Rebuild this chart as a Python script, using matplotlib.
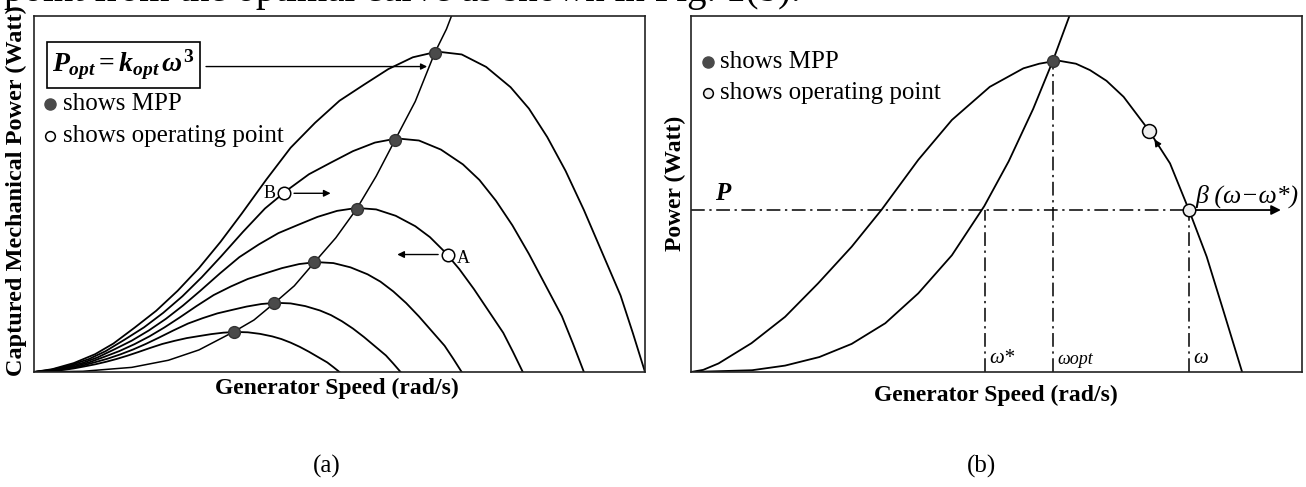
import numpy as np
import matplotlib
matplotlib.use("Agg")
import matplotlib.pyplot as plt

plt.rcParams['font.family'] = ['Liberation Serif', 'DejaVu Serif']
plt.rcParams['mathtext.fontset'] = 'custom'
plt.rcParams['mathtext.rm'] = 'Liberation Serif:bold'
plt.rcParams['mathtext.it'] = 'Liberation Serif:italic:bold'
plt.rcParams['mathtext.bf'] = 'Liberation Serif:bold'

# ---- panel (a) data (box fractions) ----
# largest power curve
base_u = [0.00, 0.03, 0.065, 0.10, 0.13, 0.165, 0.20, 0.235, 0.27, 0.305, 0.34,
          0.38, 0.42, 0.46, 0.50, 0.54, 0.58, 0.62, 0.66, 0.70, 0.74, 0.78,
          0.81, 0.84, 0.87, 0.90, 0.93, 0.96, 0.98, 1.00]
base_v = [0.00, 0.008, 0.025, 0.05, 0.08, 0.125, 0.172, 0.228, 0.292, 0.365, 0.445,
          0.54, 0.63, 0.70, 0.762, 0.807, 0.851, 0.884, 0.90, 0.892, 0.857, 0.80,
          0.74, 0.66, 0.565, 0.455, 0.335, 0.215, 0.11, 0.00]
wind_scale = [0.5, 0.6, 0.7, 0.8, 0.9, 1.0]

# optimal curve P_opt = k_opt w^3, read points
opt_x = [0.0, 0.08, 0.16, 0.22, 0.27, 0.327, 0.36, 0.393, 0.426, 0.459, 0.494,
         0.528, 0.56, 0.591, 0.624, 0.656, 0.675, 0.69]
opt_y = [0.0, 0.002, 0.013, 0.033, 0.062, 0.113, 0.146, 0.193, 0.242, 0.308, 0.377,
         0.458, 0.55, 0.652, 0.76, 0.897, 0.963, 1.03]
mpp_x = [0.327, 0.393, 0.459, 0.528, 0.591, 0.656]
mpp_y = [0.113, 0.193, 0.308, 0.458, 0.652, 0.897]
op_a = (0.678, 0.330)
op_b = (0.409, 0.502)

# ---- panel (b) data ----
pb_x = [0.0, 0.02, 0.045, 0.099, 0.154, 0.208, 0.263, 0.312, 0.372, 0.427, 0.489,
        0.544, 0.57, 0.60, 0.63, 0.653, 0.68, 0.708, 0.748, 0.784, 0.815, 0.844,
        0.871, 0.902]
pb_y = [0.0, 0.006, 0.024, 0.081, 0.155, 0.249, 0.352, 0.456, 0.596, 0.708, 0.801,
        0.853, 0.866, 0.875, 0.866, 0.848, 0.818, 0.773, 0.682, 0.586, 0.455, 0.324,
        0.174, 0.0]
cb_x = [0.0, 0.1, 0.154, 0.21, 0.263, 0.318, 0.372, 0.427, 0.48, 0.52, 0.56, 0.592, 0.62]
cb_y = [0.0, 0.005, 0.018, 0.042, 0.079, 0.137, 0.221, 0.328, 0.466, 0.592, 0.739, 0.873, 1.003]
p_level = 0.455
w_star = 0.481
w_opt = 0.592
w_op = 0.815
mpp_b = (0.592, 0.873)
op_b2 = (0.750, 0.678)

W, H = 1306, 487
fig = plt.figure(figsize=(W / 100, H / 100), dpi=100)

def box(x0, y0, x1, y1):
    return [x0 / W, 1 - y1 / H, (x1 - x0) / W, (y1 - y0) / H]

ax1 = fig.add_axes(box(34, 16, 645, 372))
ax2 = fig.add_axes(box(691, 16, 1302, 372))
for ax in (ax1, ax2):
    ax.set_xlim(0, 1)
    ax.set_ylim(0, 1)
    ax.set_xticks([])
    ax.set_yticks([])
    for s in ax.spines.values():
        s.set_linewidth(1.2)
        s.set_color('#222222')

lw = 1.3
# ---- panel (a) ----
u = np.array(base_u)
v = np.array(base_v)
for s in wind_scale:
    ax1.plot(s * u, s ** 3 * v, color='black', lw=lw)
ax1.plot(opt_x, opt_y, color='black', lw=1.1)
ax1.plot(mpp_x, mpp_y, 'o', ms=8.5, color='#4a4a4a', mec='#333333')
for pt in (op_a, op_b):
    ax1.plot(*pt, 'o', ms=9, mfc='white', mec='black', mew=1.1, zorder=5)

ax1.annotate('', xy=(0.49, op_b[1]), xytext=(op_b[0] + 0.012, op_b[1]),
             arrowprops=dict(arrowstyle='-|>', lw=1, color='black', mutation_scale=10))
ax1.annotate('', xy=(0.59, op_a[1]), xytext=(op_a[0] - 0.012, op_a[1]),
             arrowprops=dict(arrowstyle='-|>', lw=1, color='black', mutation_scale=10))
ax1.text(op_b[0] - 0.014, op_b[1], 'B', ha='right', va='center', fontsize=13)
ax1.text(op_a[0] + 0.014, op_a[1] - 0.01, 'A', ha='left', va='center', fontsize=13)

ax1.text(0.146, 0.862, r'$P_{opt} = k_{opt}\,\omega^3$', ha='center', va='center',
         fontsize=20,
         bbox=dict(boxstyle='square,pad=0.2', fc='white', ec='black', lw=1.2))
ax1.annotate('', xy=(0.648, 0.858), xytext=(0.277, 0.858),
             arrowprops=dict(arrowstyle='-|>', lw=1, color='black', mutation_scale=9))
ax1.plot(0.027, 0.752, 'o', ms=8, color='#4a4a4a')
ax1.text(0.047, 0.752, 'shows MPP', ha='left', va='center', fontsize=18)
ax1.plot(0.027, 0.663, 'o', ms=7, mfc='white', mec='black', mew=1.1)
ax1.text(0.047, 0.663, 'shows operating point', ha='left', va='center', fontsize=18)

ax1.text(-0.029, 0.51, 'Captured Mechanical Power (Watt)', rotation=90,
         ha='center', va='center', fontsize=17.5, fontweight='bold')
ax1.text(0.496, -0.045, 'Generator Speed (rad/s)', ha='center', va='center',
         fontsize=17, fontweight='bold')

# ---- panel (b) ----
ax2.plot(pb_x, pb_y, color='black', lw=lw)
ax2.plot(cb_x, cb_y, color='black', lw=lw)
dd = (0, (9, 3, 1.5, 3))
ax2.plot([0, w_op], [p_level, p_level], color='black', lw=1.1, ls=dd)
ax2.annotate('', xy=(0.97, p_level), xytext=(w_op, p_level),
             arrowprops=dict(arrowstyle='-|>', lw=1.3, color='black', mutation_scale=14))
ax2.plot([w_star, w_star], [0, p_level], color='black', lw=1.1, ls=dd)
ax2.plot([w_opt, w_opt], [0, mpp_b[1]], color='black', lw=1.1, ls=dd)
ax2.plot([w_op, w_op], [0, p_level], color='black', lw=1.1, ls=dd)

ax2.plot(*mpp_b, 'o', ms=8.5, color='#4a4a4a', mec='#333333', zorder=5)
ax2.plot(w_op, p_level, 'o', ms=9, mfc='#eeeeee', mec='black', mew=1.1, zorder=5)
ax2.plot(*op_b2, 'o', ms=10, mfc='#eeeeee', mec='black', mew=1.1, zorder=5)
ax2.annotate('', xy=(op_b2[0] + 0.006, op_b2[1] - 0.018), xytext=(0.768, 0.628),
             arrowprops=dict(arrowstyle='-|>', lw=1, color='black', mutation_scale=10),
             zorder=6)

ax2.plot(0.028, 0.872, 'o', ms=8, color='#4a4a4a')
ax2.text(0.048, 0.872, 'shows MPP', ha='left', va='center', fontsize=18)
ax2.plot(0.028, 0.783, 'o', ms=7, mfc='#eeeeee', mec='black', mew=1.1)
ax2.text(0.048, 0.783, 'shows operating point', ha='left', va='center', fontsize=18)

ax2.text(0.039, 0.47, 'P', ha='left', va='bottom', fontsize=18,
         fontweight='bold', fontstyle='italic')
ax2.text(0.826, 0.462, 'β (ω−ω*)', ha='left', va='bottom', fontsize=18.5,
         fontstyle='italic')
ax2.text(w_star + 0.007, 0.01, 'ω*', ha='left', va='bottom', fontsize=15,
         fontstyle='italic')
ax2.text(w_opt + 0.008, 0.01, 'ωopt', ha='left', va='bottom', fontsize=13,
         fontstyle='italic')
ax2.text(w_op + 0.007, 0.01, 'ω', ha='left', va='bottom', fontsize=15,
         fontstyle='italic')

ax2.text(-0.026, 0.53, 'Power (Watt)', rotation=90, ha='center', va='center',
         fontsize=17, fontweight='bold')
ax2.text(0.499, -0.065, 'Generator Speed (rad/s)', ha='center', va='center',
         fontsize=17, fontweight='bold')

# captions and the page line cut off at the top
fig.text(327 / W, 1 - 466 / H, '(a)', ha='center', va='center', fontsize=18)
fig.text(982 / W, 1 - 466 / H, '(b)', ha='center', va='center', fontsize=18)
fig.text(4 / W, 1 - 0.5 / H, 'point from the optimal curve as shown in Fig. 1(b).',
         ha='left', va='baseline', fontsize=28)

fig.savefig('out.png', dpi=100)
